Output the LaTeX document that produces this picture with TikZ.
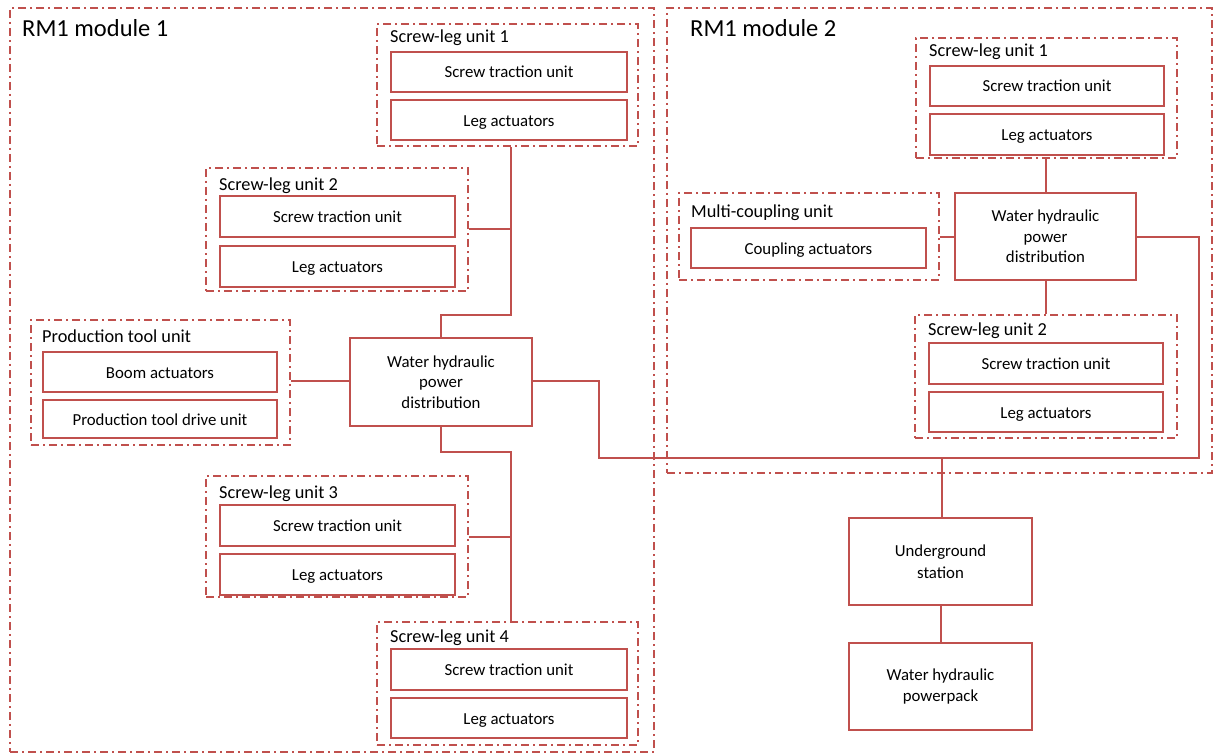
\documentclass[tikz,border=0pt]{standalone}
\usepackage{fontspec}
\setmainfont{Carlito}
\definecolor{accent}{HTML}{C0504D}
\begin{document}
\begin{tikzpicture}[x=1pt,y=-1pt,
  every node/.style={font=\fontsize{16.8}{20.5}\selectfont, text=black},
  box/.style={draw=accent, line width=2pt, inner sep=0pt, align=center},
  line1/.style={box, text height=15pt, text depth=3pt},
  group/.style={draw=accent, line width=2pt, inner sep=0pt,
    dash pattern=on 8pt off 4pt on 2pt off 4pt},
  tag/.style={anchor=base west, inner sep=0pt, font=\fontsize{18.3}{22}\selectfont},
  title/.style={anchor=base west, inner sep=0pt, font=\fontsize{24.5}{28}\selectfont},
  link/.style={draw=accent, line width=2pt}]
\useasboundingbox (0,0) rectangle (1214,754);

% ---- module frames ----
\node[group, minimum width=644pt, minimum height=744pt] (m1) at (332,380) {};
\node[group, minimum width=545pt, minimum height=465pt] (m2) at (939.5,240.5) {};
\node[title] (m1t) at (22,37) {RM1 module 1};
\node[title] (m2t) at (690,37) {RM1 module 2};

% ---- module 1 ----
\node[group, minimum width=261pt, minimum height=122pt] (a1) at (507.5,85) {};
\node[tag] (a1t) at (390,43) {Screw-leg unit 1};
\node[line1, minimum width=236pt, minimum height=40pt] (a1s) at (509,72) {Screw traction unit};
\node[line1, minimum width=236pt, minimum height=40pt] (a1l) at (509,120.5) {Leg actuators};

\node[group, minimum width=262pt, minimum height=123pt] (a2) at (337,229.5) {};
\node[tag] (a2t) at (219,190) {Screw-leg unit 2};
\node[line1, minimum width=235pt, minimum height=41pt] (a2s) at (337.5,216.5) {Screw traction unit};
\node[line1, minimum width=235pt, minimum height=41pt] (a2l) at (337.5,266) {Leg actuators};

\node[group, minimum width=259pt, minimum height=125pt] (pt) at (160.5,382.5) {};
\node[tag] (ptt) at (42,342) {Production tool unit};
\node[line1, minimum width=234pt, minimum height=40pt] (pts) at (160,372) {Boom actuators};
\node[line1, minimum width=234pt, minimum height=38pt] (ptd) at (160,419) {Production tool drive unit};

\node[box, minimum width=182pt, minimum height=88pt] (w1) at (441,382) {Water hydraulic\\power\\distribution};

\node[group, minimum width=262pt, minimum height=121pt] (a3) at (337,536.5) {};
\node[tag] (a3t) at (219,498) {Screw-leg unit 3};
\node[line1, minimum width=235pt, minimum height=41pt] (a3s) at (337.5,525.5) {Screw traction unit};
\node[line1, minimum width=235pt, minimum height=41pt] (a3l) at (337.5,574.5) {Leg actuators};

\node[group, minimum width=261pt, minimum height=123pt] (a4) at (507.5,683.5) {};
\node[tag] (a4t) at (390,642) {Screw-leg unit 4};
\node[line1, minimum width=236pt, minimum height=41pt] (a4s) at (509,669.5) {Screw traction unit};
\node[line1, minimum width=236pt, minimum height=40pt] (a4l) at (509,718) {Leg actuators};

% ---- module 2 ----
\node[group, minimum width=261pt, minimum height=120pt] (b1) at (1046.5,98) {};
\node[tag] (b1t) at (929,57) {Screw-leg unit 1};
\node[line1, minimum width=234pt, minimum height=40pt] (b1s) at (1047,86) {Screw traction unit};
\node[line1, minimum width=234pt, minimum height=41pt] (b1l) at (1047,134.5) {Leg actuators};

\node[group, minimum width=260pt, minimum height=87pt] (mc) at (809,236.5) {};
\node[tag] (mct) at (691,217) {Multi-coupling unit};
\node[line1, minimum width=235pt, minimum height=40pt] (mcs) at (808.5,248) {Coupling actuators};

\node[box, minimum width=181pt, minimum height=87pt] (w2) at (1045.5,236.5) {Water hydraulic\\power\\distribution};

\node[group, minimum width=262pt, minimum height=123pt] (b2) at (1046,376.5) {};
\node[tag] (b2t) at (928,335) {Screw-leg unit 2};
\node[line1, minimum width=234pt, minimum height=41pt] (b2s) at (1046,363.5) {Screw traction unit};
\node[line1, minimum width=234pt, minimum height=40pt] (b2l) at (1046,412) {Leg actuators};

% ---- surface side ----
\node[box, minimum width=183pt, minimum height=87pt] (us) at (940.5,561.5) {Underground\\[1.5pt]station};
\node[box, minimum width=183pt, minimum height=87pt] (pp) at (940.5,686.5) {Water hydraulic\\powerpack};

% ---- hydraulic lines ----
\coordinate (t1) at (511,315);
\coordinate (t2) at (511,452);
\coordinate (r1) at (599,458);
\coordinate (r2) at (1199,458);

\draw[link] (w1.north) |- (t1) -- (t1 |- a1.south);
\draw[link] (a2.east |- 0,229) -- (t1 |- 0,229);
\draw[link] (w1.south) |- (t2) -- (t2 |- a4.north);
\draw[link] (a3.east |- 0,537) -- (t2 |- 0,537);
\draw[link] (w1.west |- 0,381) -- (pt.east |- 0,381);
\draw[link] (w1.east |- 0,381) -| (r1) -- (r2) |- (w2.east |- 0,237);
\draw[link] (us.north -| 942,0) -- (r1 -| 942,0);

\draw[link] (w2.north) -- (w2.north |- b1.south);
\draw[link] (w2.south) -- (w2.south |- b2.north);
\draw[link] (mc.east |- 0,237) -- (w2.west |- 0,237);
\draw[link] (us.south) -- (pp.north);
\end{tikzpicture}
\end{document}
